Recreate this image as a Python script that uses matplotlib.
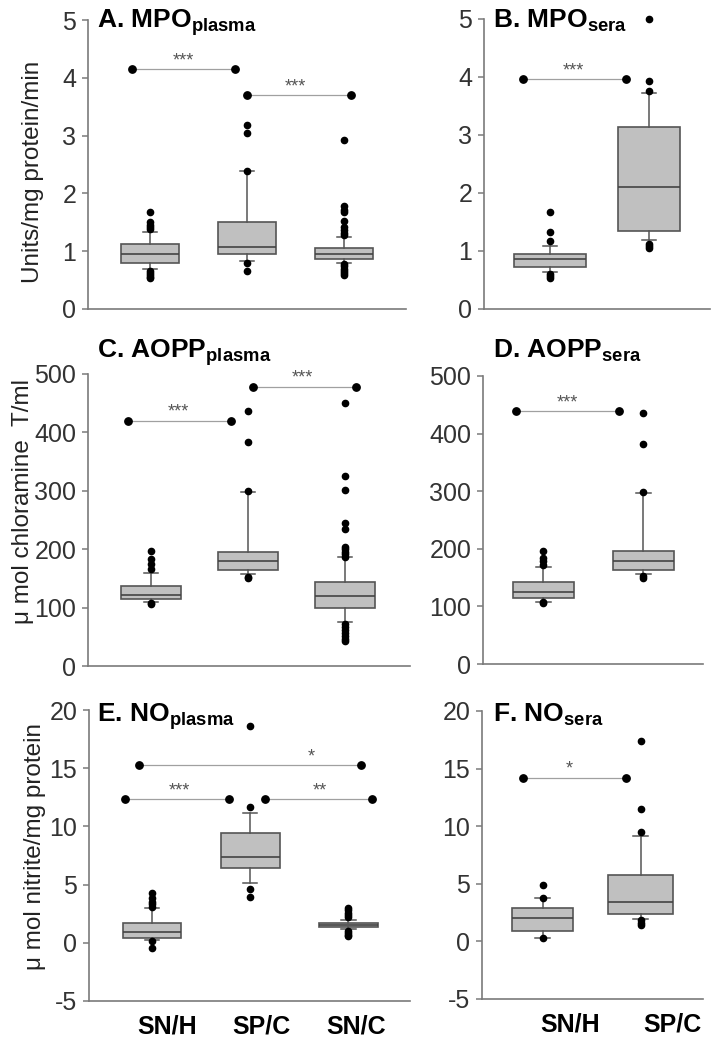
import matplotlib
matplotlib.use('Agg')
import matplotlib.pyplot as plt

plt.rcParams['font.family'] = ['Liberation Sans', 'DejaVu Sans']
plt.rcParams['mathtext.fontset'] = 'custom'
plt.rcParams['mathtext.rm'] = 'Liberation Sans'
plt.rcParams['mathtext.bf'] = 'Liberation Sans:bold'
plt.rcParams['axes.unicode_minus'] = False

groups3 = ['SN/H', 'SP/C', 'SN/C']
groups2 = ['SN/H', 'SP/C']

# box stats per group: [lower whisker, q1, median, q3, upper whisker]
mpo_plasma_box = [[0.70, 0.80, 0.96, 1.12, 1.33],
                  [0.83, 0.95, 1.08, 1.51, 2.39],
                  [0.80, 0.86, 0.96, 1.06, 1.25]]
mpo_plasma_out = [[1.67, 1.50, 1.46, 1.42, 1.38, 0.66, 0.62, 0.58, 0.55, 0.53],
                  [3.18, 3.05, 2.39, 0.80, 0.66],
                  [2.92, 1.78, 1.72, 1.67, 1.52, 1.42, 1.37, 1.32, 1.28,
                   0.78, 0.74, 0.70, 0.66, 0.62, 0.59]]
# significance bars: (x start, x end, y, stars, stars x)
mpo_plasma_sig = [(0.81, 1.88, 4.15, '***', 1.34),
                  (2.00, 3.07, 3.70, '***', 2.50)]

mpo_sera_box = [[0.63, 0.73, 0.86, 0.95, 1.09],
                [1.19, 1.35, 2.11, 3.13, 3.72]]
mpo_sera_out = [[1.68, 1.32, 1.18, 0.61, 0.57, 0.54],
                [5.00, 3.93, 3.76, 1.12, 1.08, 1.05]]
mpo_sera_sig = [(0.73, 1.77, 3.96, '***', 1.24)]

aopp_plasma_box = [[110, 115, 121, 137, 160],
                   [157, 164, 180, 196, 298],
                   [76, 99, 120, 143, 186]]
aopp_plasma_out = [[197, 183, 174, 166, 108, 106],
                   [437, 384, 299, 153, 150],
                   [450, 326, 301, 245, 234, 204, 200, 196, 191, 187,
                    72, 67, 62, 57, 52, 47, 42]]
aopp_plasma_sig = [(0.76, 1.82, 420, '***', 1.28),
                   (2.05, 3.11, 478, '***', 2.56)]

aopp_sera_box = [[108, 114, 125, 143, 169],
                 [156, 163, 179, 196, 297]]
aopp_sera_out = [[196, 184, 178, 172, 108, 106],
                 [436, 382, 299, 152, 149]]
aopp_sera_sig = [(0.73, 1.76, 439, '***', 1.24)]

no_plasma_box = [[0.23, 0.37, 0.89, 1.72, 3.01],
                 [5.10, 6.44, 7.39, 9.45, 11.17],
                 [1.15, 1.32, 1.50, 1.72, 1.95]]
no_plasma_out = [[4.32, 3.81, 3.52, 3.32, 3.09, 0.15, -0.43],
                 [18.64, 11.66, 4.64, 3.93],
                 [3.0, 2.8, 2.6, 2.4, 2.2, 1.0, 0.85, 0.7, 0.55]]
no_plasma_sig = [(0.72, 1.78, 12.32, '***', 1.28),
                 (2.15, 3.24, 12.32, '**', 2.71),
                 (0.87, 3.13, 15.27, '*', 2.62)]

no_sera_box = [[0.32, 0.93, 2.06, 2.93, 3.74],
               [1.97, 2.35, 3.45, 5.76, 9.12]]
no_sera_out = [[4.93, 3.80, 0.30],
               [17.4, 11.5, 9.53, 1.9, 1.6, 1.4]]
no_sera_sig = [(0.80, 1.85, 14.2, '*', 1.27)]

W, H = 717, 1040
fig = plt.figure(figsize=(W / 100, H / 100), dpi=100)

spine_col = '#7a7a7a'
box_edge = '#555555'


def make_axes(x0, x1, y0, y1):
    return fig.add_axes([x0 / W, 1 - y1 / H, (x1 - x0) / W, (y1 - y0) / H])


def draw_panel(ax, box, out, sig, widths, xlim, ylim, yticks):
    stats = []
    for b, o in zip(box, out):
        stats.append({'whislo': b[0], 'q1': b[1], 'med': b[2], 'q3': b[3],
                      'whishi': b[4], 'fliers': o})
    pos = list(range(1, len(box) + 1))
    parts = ax.bxp(stats, positions=pos, widths=widths, patch_artist=True,
                   capwidths=0.15, manage_ticks=False,
                   boxprops=dict(facecolor='#c0c0c0', edgecolor=box_edge, linewidth=1.2),
                   medianprops=dict(color='#444444', linewidth=1.2),
                   whiskerprops=dict(color=box_edge, linewidth=1.1),
                   capprops=dict(color=box_edge, linewidth=1.1),
                   flierprops=dict(marker='o', markerfacecolor='black',
                                   markeredgecolor='black', markersize=4.5,
                                   linestyle='none'))
    for fl in parts['fliers']:
        fl.set_clip_on(False)
    for x1, x2, y, stars, sx in sig:
        ax.plot([x1, x2], [y, y], color='#a0a0a0', lw=0.9, zorder=1, clip_on=False)
        ax.plot([x1, x2], [y, y], 'o', color='black', ms=5.3, clip_on=False)
        ax.annotate(stars, (sx, y), xytext=(0, 0), textcoords='offset points',
                    ha='center', va='bottom', fontsize=13, color='#555555',
                    annotation_clip=False)
    ax.set_xlim(*xlim)
    ax.set_ylim(*ylim)
    ax.set_yticks(yticks)
    ax.set_xticks([])
    for s in ['top', 'right']:
        ax.spines[s].set_visible(False)
    for s in ['left', 'bottom']:
        ax.spines[s].set_color(spine_col)
        ax.spines[s].set_linewidth(1.2)
    ax.tick_params(axis='y', length=4.5, width=1.1, color=spine_col,
                   labelsize=18, labelcolor='#333333', pad=4)
    ax.patch.set_alpha(0)


# A
axA = make_axes(88, 406, 20, 309)
draw_panel(axA, mpo_plasma_box, mpo_plasma_out, mpo_plasma_sig, 0.6,
           (0.36, 3.64), (0, 5), range(0, 6))
# B
axB = make_axes(484, 710, 19, 309)
draw_panel(axB, mpo_sera_box, mpo_sera_out, mpo_sera_sig, [0.72, 0.63],
           (0.333, 2.616), (0, 5), range(0, 6))
# C
axC = make_axes(88, 410, 374, 666)
draw_panel(axC, aopp_plasma_box, aopp_plasma_out, aopp_plasma_sig, 0.62,
           (0.35, 3.67), (0, 500), range(0, 501, 100))
# D
axD = make_axes(483, 703, 376, 664)
draw_panel(axD, aopp_sera_box, aopp_sera_out, aopp_sera_sig, 0.61,
           (0.4, 2.6), (0, 500), range(0, 501, 100))
# E
axE = make_axes(89, 410, 710, 1001)
draw_panel(axE, no_plasma_box, no_plasma_out, no_plasma_sig, 0.6,
           (0.357, 3.63), (-5, 20), range(-5, 21, 5))
# F
axF = make_axes(482, 703, 711, 999)
draw_panel(axF, no_sera_box, no_sera_out, no_sera_sig, [0.62, 0.66],
           (0.38, 2.635), (-5, 20), range(-5, 21, 5))

# group labels under the bottom panels
for ax, labs, xs in [(axE, groups3, [1.15, 2.11, 3.08]), (axF, groups2, [1.28, 2.32])]:
    for lab, x in zip(labs, xs):
        ax.annotate(lab, (x, 0), xycoords=('data', 'axes fraction'),
                    xytext=(0, -10), textcoords='offset points',
                    ha='center', va='top', fontsize=18, fontweight='bold',
                    annotation_clip=False)

# panel titles
titles = [('A. MPO', 'plasma', 97, 27),
          ('B. MPO', 'sera', 493, 27),
          ('C. AOPP', 'plasma', 97, 357),
          ('D. AOPP', 'sera', 493, 357),
          ('E. NO', 'plasma', 97, 722),
          ('F. NO', 'sera', 493, 722)]
for main, sub, x, y in titles:
    fig.text(x / W, 1 - y / H, main + r'$_{\mathbf{' + sub + '}}$',
             fontsize=19, fontweight='bold', ha='left', va='baseline')

# y axis labels
ylabels = [('Units/mg protein/min', 33, 172),
           ('μ mol chloramine  T/ml', 23, 501),
           ('μ mol nitrite/mg protein', 35, 847)]
for t, x, y in ylabels:
    fig.text(x / W, 1 - y / H, t, fontsize=17.5, rotation=90,
             ha='center', va='center', color='#222222')

fig.savefig('out.png', dpi=100)
